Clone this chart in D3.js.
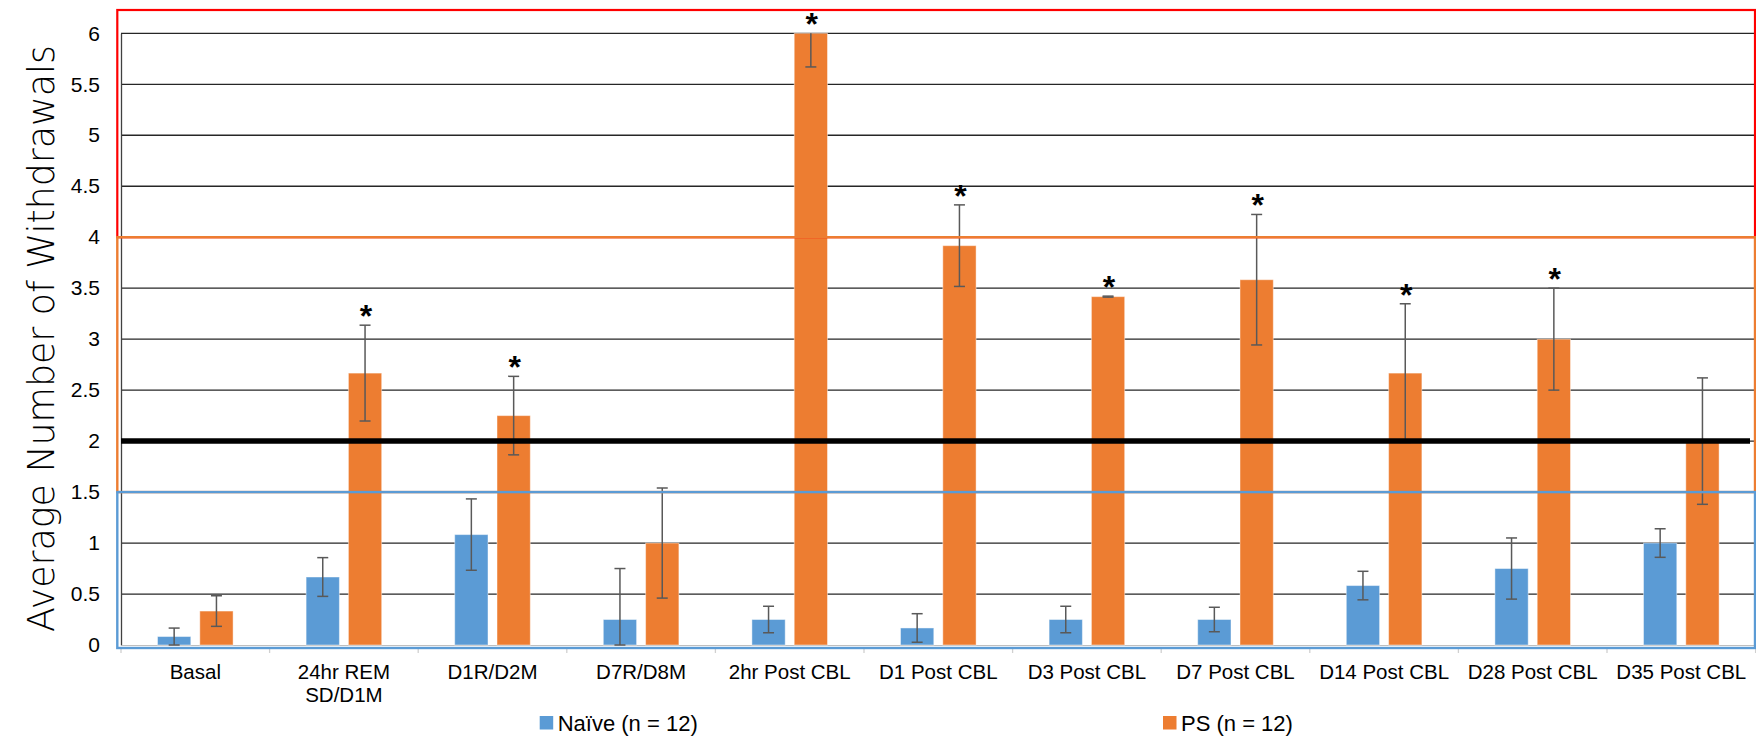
<!DOCTYPE html>
<html>
<head>
<meta charset="utf-8">
<script src="https://cdn.jsdelivr.net/npm/d3@7/dist/d3.min.js"></script>
<style>
  html, body { margin: 0; padding: 0; background: #fff; }
  svg { display: block; }
</style>
</head>
<body>
<svg id="chart" width="1756" height="737"></svg>
<script>
// Withdrawal counts per time point, mean ± SEM
const categories = ["Basal", "24hr REM\nSD/D1M", "D1R/D2M", "D7R/D8M", "2hr Post CBL",
  "D1 Post CBL", "D3 Post CBL", "D7 Post CBL", "D14 Post CBL", "D28 Post CBL", "D35 Post CBL"];
const seriesNames = ["Naïve (n = 12)", "PS (n = 12)"];
const naiveMean = [0.083, 0.667, 1.083, 0.25, 0.25, 0.167, 0.25, 0.25, 0.583, 0.75, 1.0];
const naiveSem  = [0.083, 0.19, 0.35, 0.5, 0.13, 0.14, 0.13, 0.12, 0.14, 0.3, 0.14];
const psMean = [0.333, 2.667, 2.25, 1.0, 6.0, 3.917, 3.417, 3.583, 2.667, 3.0, 2.0];
const psSem  = [0.15, 0.47, 0.385, 0.54, 0.33, 0.40, 0.005, 0.64, 0.68, 0.5, 0.62];
const psSignificant = [false, true, true, false, true, true, true, true, true, true, false];
const yTicks = [0, 0.5, 1, 1.5, 2, 2.5, 3, 3.5, 4, 4.5, 5, 5.5, 6];
const thresholdValue = 2;
const zoneBounds = [1.5, 4];   // blue: 0–1.5, orange: 1.5–4, red: 4–top
const yTitle = "Average Number of Withdrawals";

const colors = { naive: "#5B9BD5", ps: "#ED7D31" };

const svg = d3.select("#chart");
const plot = { left: 121, right: 1755.6, top: 33.3, bottom: 645 };

const x = d3.scaleBand().domain(categories).range([plot.left, plot.right]).paddingInner(0).paddingOuter(0);
const inner = d3.scaleBand().domain(["naive", "ps"]).range([0, x.bandwidth()])
  .paddingInner(0.213).paddingOuter(0.863);
const y = d3.scaleLinear().domain([0, 6]).range([plot.bottom, plot.top]);

const rows = categories.map((c, i) => ({
  cat: c,
  groups: [
    { key: "naive", mean: naiveMean[i], sem: naiveSem[i], sig: false },
    { key: "ps", mean: psMean[i], sem: psSem[i], sig: psSignificant[i] }
  ]
}));

// gridlines
svg.append("g")
  .selectAll("line").data(yTicks.filter(t => t > 0)).join("line")
  .attr("x1", plot.left).attr("x2", plot.right)
  .attr("y1", d => y(d)).attr("y2", d => y(d))
  .attr("stroke", "#262626").attr("stroke-width", 1.3);

// y axis
const yAxis = d3.axisLeft(y).tickValues(yTicks).tickSize(0).tickPadding(21)
  .tickFormat(d => d3.format("")(d));
const yg = svg.append("g").attr("transform", `translate(${plot.left},0)`).call(yAxis);
yg.select(".domain").attr("stroke", "#404040").attr("stroke-width", 1.3);
yg.selectAll("text").attr("font-family", "Liberation Sans, Arial, sans-serif")
  .attr("font-size", 21).attr("fill", "#000");

// x axis
const xAxis = d3.axisBottom(x).tickSize(0).tickFormat("");
const xg = svg.append("g").attr("transform", `translate(0,${plot.bottom})`).call(xAxis);
xg.select(".domain").attr("stroke", "#bfbfbf").attr("stroke-width", 1);
// band boundary tick marks
svg.append("g").selectAll("line")
  .data(categories.concat(["__end"])).join("line")
  .attr("x1", (d, i) => plot.left + i * x.step()).attr("x2", (d, i) => plot.left + i * x.step())
  .attr("y1", plot.bottom + 3).attr("y2", plot.bottom + 8)
  .attr("stroke", "#d0d0d0").attr("stroke-width", 1.3);

// category labels
const catLabels = svg.append("g")
  .attr("font-family", "Liberation Sans, Arial, sans-serif").attr("font-size", 20.5)
  .attr("fill", "#000").attr("text-anchor", "middle");
categories.forEach(c => {
  const lines = c.split("\n");
  const t = catLabels.append("text").attr("x", x(c) + x.bandwidth() / 2).attr("y", 679);
  lines.forEach((ln, k) => t.append("tspan").attr("x", x(c) + x.bandwidth() / 2)
    .attr("dy", k === 0 ? 0 : 22.7).text(ln));
});

// bars
const groups = svg.append("g").selectAll("g").data(rows).join("g")
  .attr("transform", d => `translate(${x(d.cat)},0)`);
groups.selectAll("rect").data(d => d.groups).join("rect")
  .attr("x", d => inner(d.key)).attr("width", inner.bandwidth())
  .attr("y", d => y(d.mean)).attr("height", d => y(0) - y(d.mean))
  .attr("fill", d => colors[d.key])
  .attr("stroke", "#ffffff").attr("stroke-opacity", 0.45).attr("stroke-width", 1);

// threshold line
svg.append("line")
  .attr("x1", plot.left).attr("x2", 1750)
  .attr("y1", y(thresholdValue)).attr("y2", y(thresholdValue))
  .attr("stroke", "#000").attr("stroke-width", 5.5);

// error bars
const errG = groups.selectAll("g.err").data(d => d.groups).join("g").attr("class", "err");
const clampTop = v => Math.min(6, v), clampBot = v => Math.max(0, v);
errG.append("line")
  .attr("x1", d => inner(d.key) + inner.bandwidth() / 2).attr("x2", d => inner(d.key) + inner.bandwidth() / 2)
  .attr("y1", d => y(clampTop(d.mean + d.sem))).attr("y2", d => y(clampBot(d.mean - d.sem)))
  .attr("stroke", "#595959").attr("stroke-width", 1.5);
errG.filter(d => d.mean + d.sem <= 6).append("line")
  .attr("x1", d => inner(d.key) + inner.bandwidth() / 2 - 5.5).attr("x2", d => inner(d.key) + inner.bandwidth() / 2 + 5.5)
  .attr("y1", d => y(d.mean + d.sem)).attr("y2", d => y(d.mean + d.sem))
  .attr("stroke", "#595959").attr("stroke-width", 1.5);
errG.append("line")
  .attr("x1", d => inner(d.key) + inner.bandwidth() / 2 - 5.5).attr("x2", d => inner(d.key) + inner.bandwidth() / 2 + 5.5)
  .attr("y1", d => y(clampBot(d.mean - d.sem))).attr("y2", d => y(clampBot(d.mean - d.sem)))
  .attr("stroke", "#595959").attr("stroke-width", 1.5);

// significance asterisks
groups.selectAll("text.sig").data(d => d.groups.filter(g => g.sig)).join("text")
  .attr("class", "sig")
  .attr("x", d => inner(d.key) + inner.bandwidth() / 2 + 1)
  .attr("y", d => y(clampTop(d.mean + d.sem)) + 2)
  .attr("text-anchor", "middle")
  .attr("font-family", "Liberation Sans, Arial, sans-serif")
  .attr("font-weight", "bold").attr("font-size", 32).attr("fill", "#000")
  .text("*");

// range zones (red on top region, orange middle, blue lowest)
const zoneLeft = 117.3, zoneRight = 1755;
svg.append("rect").attr("x", zoneLeft).attr("y", 10)
  .attr("width", zoneRight - zoneLeft).attr("height", y(zoneBounds[1]) - 10)
  .attr("fill", "none").attr("stroke", "#FF0000").attr("stroke-width", 2.2);
svg.append("rect").attr("x", zoneLeft).attr("y", y(zoneBounds[1]))
  .attr("width", zoneRight - zoneLeft).attr("height", y(zoneBounds[0]) - y(zoneBounds[1]))
  .attr("fill", "none").attr("stroke", "#ED7D31").attr("stroke-width", 2.4);
svg.append("rect").attr("x", zoneLeft).attr("y", y(zoneBounds[0]))
  .attr("width", zoneRight - zoneLeft).attr("height", plot.bottom + 3 - y(zoneBounds[0]))
  .attr("fill", "none").attr("stroke", "#5B9BD5").attr("stroke-width", 2.4);

// y title
svg.append("text")
  .attr("transform", `translate(54,338.5) rotate(-90)`)
  .attr("text-anchor", "middle")
  .attr("font-family", "DejaVu Sans, sans-serif").attr("font-weight", 300)
  .attr("font-size", 38).attr("fill", "#000")
  .attr("textLength", 587).attr("lengthAdjust", "spacingAndGlyphs")
  .text(yTitle);

// legend
const legendX = [539.7, 1163];
const lg = svg.append("g").attr("font-family", "Liberation Sans, Arial, sans-serif").attr("font-size", 22);
seriesNames.forEach((name, i) => {
  const key = i === 0 ? "naive" : "ps";
  lg.append("rect").attr("x", legendX[i]).attr("y", 716).attr("width", 13.5).attr("height", 13.5)
    .attr("fill", colors[key]);
  lg.append("text").attr("x", legendX[i] + 18).attr("y", 731).attr("fill", "#000").text(name);
});
</script>
</body>
</html>
